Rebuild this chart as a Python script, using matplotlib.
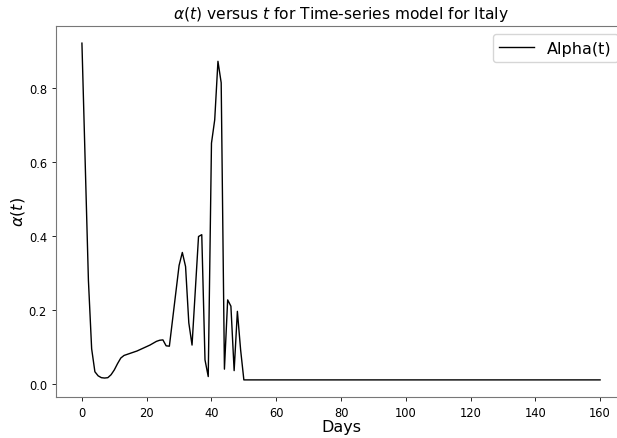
import matplotlib

matplotlib.use("Agg")
import matplotlib.pyplot as plt
import numpy as np

# alpha(t), one value per day
ALPHA_EARLY = [
    0.92, 0.60, 0.28, 0.095, 0.033, 0.022, 0.017, 0.016, 0.017, 0.025,   # 0-9
    0.038, 0.055, 0.070, 0.077, 0.080, 0.083, 0.086, 0.089, 0.093, 0.097,  # 10-19
    0.101, 0.105, 0.110, 0.115, 0.118, 0.119, 0.103, 0.102, 0.175, 0.250,  # 20-29
    0.320, 0.355, 0.317, 0.165, 0.105, 0.250, 0.398, 0.403, 0.065, 0.020,  # 30-39
    0.650, 0.713, 0.871, 0.813, 0.040, 0.227, 0.210, 0.036, 0.196, 0.092,  # 40-49
]
ALPHA_TAIL = 0.011   # flat from day 50 to 160
LAST_DAY = 160

days = np.arange(LAST_DAY + 1)
alpha = np.array(ALPHA_EARLY + [ALPHA_TAIL] * (LAST_DAY + 1 - len(ALPHA_EARLY)))

fig = plt.figure(figsize=(6.17, 4.39), dpi=100)
# axes runs past the right edge of the picture, as in the reference
ax = fig.add_axes([0.0908, 0.094, 0.9238, 0.8438])

ax.plot(days, alpha, color="black", lw=1.0, label="Alpha(t)")

ax.set_title(r"$\alpha(t)$ versus $t$ for Time-series model for Italy", fontsize=11.2)
ax.set_xlabel("Days", fontsize=11.5, labelpad=0)
ax.set_ylabel(r"$\alpha(t)$", fontsize=11.5, labelpad=1)
ax.set_xticks(range(0, 161, 20))
ax.tick_params(labelsize=8.3, length=3, width=0.6)
for sp in ax.spines.values():
    sp.set_linewidth(0.8)
    sp.set_color("#777777")
ax.legend(loc="upper right", fontsize=11.5, handlelength=2.2)

fig.savefig("out.png", dpi=100)
